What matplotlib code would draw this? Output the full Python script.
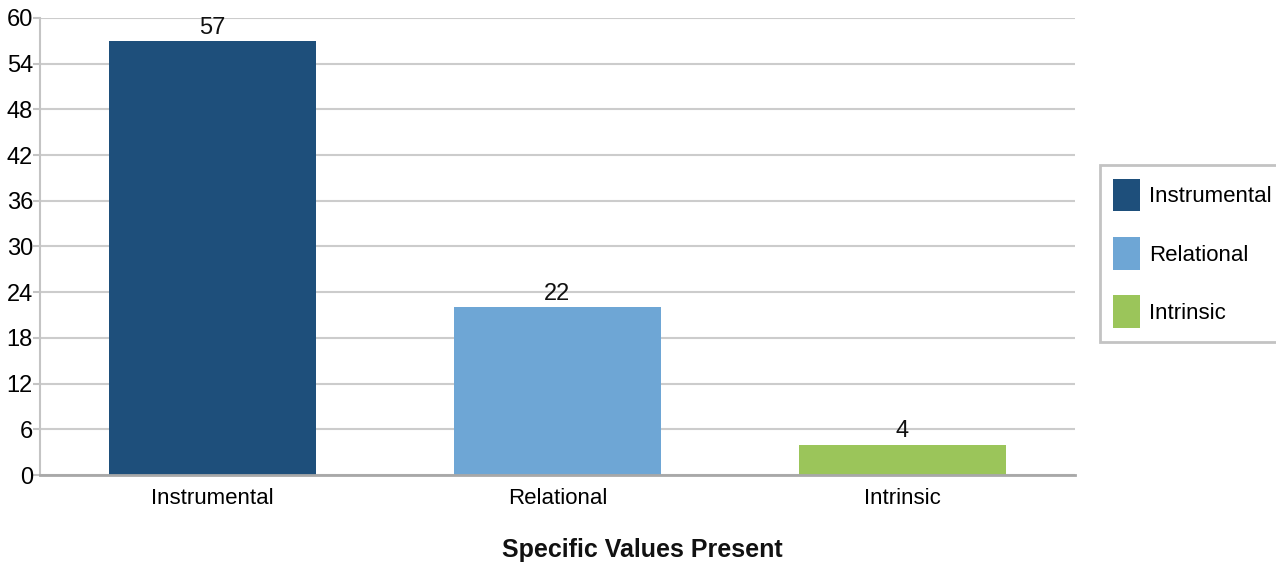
import matplotlib.pyplot as plt
from matplotlib.patches import Patch

plt.rcParams["font.family"] = ["Liberation Sans", "DejaVu Sans"]

categories = ["Instrumental", "Relational", "Intrinsic"]
counts = [57, 22, 4]
colors = ["#1e4f7b", "#6ea6d5", "#9bc55a"]
yticks = [0, 6, 12, 18, 24, 30, 36, 42, 48, 54, 60]

fig = plt.figure(figsize=(12.76, 5.62), dpi=100)
ax = fig.add_axes([0.0313, 0.1548, 0.8112, 0.8132])

x = range(len(categories))
bars = ax.bar(x, counts, width=0.6, color=colors, zorder=3)
for b, v in zip(bars, counts):
    ax.text(b.get_x() + b.get_width() / 2, v + 0.3, str(v),
            ha="center", va="bottom", fontsize=17, color="#111111")

ax.set_xlim(-0.5, 2.5)
ax.set_ylim(0, 60)
ax.set_yticks(yticks)
ax.set_xticks(list(x))
ax.set_xticklabels(categories)
ax.tick_params(axis="y", labelsize=17, length=5, color="#c4c4c4", width=1.5, pad=0)
ax.tick_params(axis="x", labelsize=16, length=0, pad=9)
ax.grid(axis="y", color="#cccccc", linewidth=1.5, zorder=0)

for s in ["top", "right"]:
    ax.spines[s].set_visible(False)
ax.spines["left"].set_color("#c4c4c4")
ax.spines["left"].set_linewidth(1.5)
ax.spines["bottom"].set_color("#a8a8a8")
ax.spines["bottom"].set_linewidth(2)
ax.spines["bottom"].set_zorder(4)

fig.text(0.503, 0.022, "Specific Values Present", ha="center", va="center",
         fontsize=18, fontweight="bold", color="#111111")

handles = [Patch(facecolor=c, label=l) for c, l in zip(colors, categories)]
leg = fig.legend(handles=handles, loc="upper left", bbox_to_anchor=(0.862, 0.706),
                 fontsize=16, frameon=True, fancybox=False, edgecolor="#b4b4b4",
                 handlelength=1.2, handleheight=1.9, handletextpad=0.4,
                 labelspacing=1.15, borderpad=0.6, borderaxespad=0)
leg.get_frame().set_linewidth(2)

fig.savefig("out.png", dpi=100)
